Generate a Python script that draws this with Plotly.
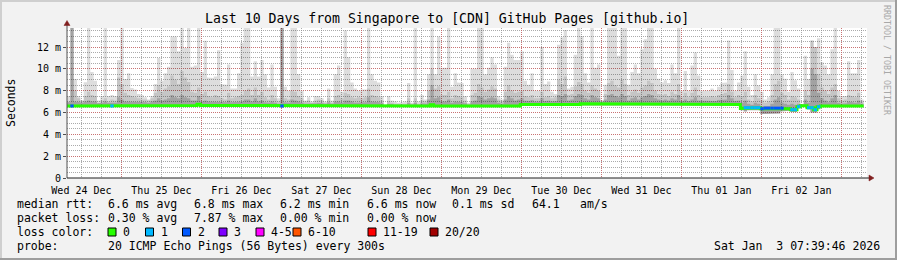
import plotly.graph_objects as go

# ---------------- text / labels ----------------
title_text = "Last 10 Days from Singapore to [CDN] GitHub Pages [github.io]"
y_axis_title = "Seconds"
watermark = "RRDTOOL / TOBI OETIKER"

day_labels = ["Wed 24 Dec", "Thu 25 Dec", "Fri 26 Dec", "Sat 27 Dec", "Sun 28 Dec",
              "Mon 29 Dec", "Tue 30 Dec", "Wed 31 Dec", "Thu 01 Jan", "Fri 02 Jan"]
# hours since Wed 24 Dec 00:00
day_noon_hours = [12, 36, 60, 84, 108, 132, 156, 180, 204, 228]
midnight_hours = [24, 48, 72, 96, 120, 144, 168, 192, 216, 240]
y_tick_values = [0, 2, 4, 6, 8, 10, 12]
y_tick_labels = ["0", "2 m", "4 m", "6 m", "8 m", "10 m", "12 m"]

start_hour = 7 + 39 / 60 + 46 / 3600       # Wed 24 Dec 07:39:46
span_hours = 240                           # last 10 days
y_top_ms = 13.74

# ---------------- hourly smoke data (ms) ----------------
smoke_max = [
    7.5, 13.74, 9.07, 7.52, 7.1, 8.76, 13.74, 9.7, 8.9, 7.1, 7.5, 13.74, 7.5, 7.6, 7.5, 10.8, 13.74, 9.07, 9.6, 8.25, 8.1, 7.7, 7.6, 7.4,
    7.2, 7.5, 8.6, 11.0, 8.9, 9.6, 10.2, 12.95, 12.95, 11.6, 13.74, 11.9, 13.74, 10.2, 10.3, 13.74, 9.7, 12.58, 9.2, 9.15, 9.3, 11.7, 8.6, 8.55,
    10.4, 8.2, 8.2, 9.6, 12.4, 13.74, 13.74, 9.3, 10.7, 9.3, 10.8, 9.5, 8.3, 10.4, 8.35, 7.3, 13.74, 8.35, 8.0, 13.74, 13.74, 9.53, 8.0, 7.1,
    7.4, 7.0, 7.5, 7.5, 7.3, 7.0, 8.2, 7.1, 9.5, 10.3, 7.9, 13.5, 11.05, 8.75, 8.2, 8.0, 8.1, 8.1, 13.74, 9.5, 8.9, 8.75, 7.5, 6.7,
    7.5, 7.1, 7.0, 6.9, 6.95, 7.0, 8.7, 6.9, 13.74, 7.0, 7.6, 7.2, 9.5, 13.74, 9.5, 12.95, 10.1, 10.1, 13.74, 8.35, 9.6, 8.75, 8.7, 7.5,
    6.9, 10.0, 10.0, 13.74, 13.74, 9.5, 10.1, 11.05, 10.4, 7.5, 7.2, 10.2, 12.4, 11.3, 10.8, 10.8, 11.6, 8.9, 8.55, 9.6, 8.0, 8.0, 12.0, 8.6,
    8.85, 7.9, 7.7, 12.2, 12.9, 13.55, 8.2, 8.35, 11.3, 13.74, 13.0, 9.6, 8.75, 13.74, 10.1, 10.4, 7.1, 8.55, 13.74, 13.74, 13.74, 11.2, 13.74, 13.74,
    8.55, 9.7, 10.4, 9.6, 11.8, 12.7, 13.74, 13.74, 10.0, 9.1, 8.75, 8.95, 8.7, 10.4, 9.6, 13.74, 8.0, 9.8, 8.0, 10.3, 11.5, 9.4, 8.0, 8.0,
    8.0, 8.2, 8.0, 8.35, 8.7, 8.75, 12.6, 9.9, 8.0, 8.75, 9.4, 11.6, 8.35, 7.6, 9.5, 8.5, 7.9, 7.2, 7.4, 9.5, 13.74, 13.74, 9.5, 9.1,
    7.9, 9.7, 8.95, 8.2, 6.75, 11.2, 9.07, 12.6, 12.0, 12.8, 10.6, 10.3, 9.5, 11.8, 13.74, 8.0, 7.5, 7.5, 10.7, 9.6, 9.6, 10.8, 7.2, None,
]
smoke_mid = [
    7.0, 13.74, 8.0, 7.3, 7.1, 7.5, 7.9, 7.6, 7.5, 6.9, 7.1, 7.3, 7.0, 7.2, 7.1, 9.2, 8.6, 7.8, 7.6, 7.5, 7.4, 7.3, 7.2, 7.2,
    7.1, 7.3, 7.8, 8.5, 7.9, 8.2, 8.4, 9.4, 9.0, 8.6, 9.8, 9.2, 8.8, 7.9, 7.8, 8.3, 7.7, 7.9, 7.5, 7.4, 7.6, 7.5, 7.3, 7.2,
    7.8, 7.3, 7.4, 7.5, 7.6, 8.0, 8.2, 7.6, 8.3, 7.6, 7.9, 7.4, 7.2, 7.6, 7.3, 7.0, 13.74, 7.3, 7.2, 8.0, 7.9, 7.5, 7.3, 7.0,
    7.1, 6.9, 7.1, 7.2, 7.1, 6.9, 7.3, 6.9, 7.5, 7.6, 7.3, 7.8, 7.7, 7.4, 7.3, 7.4, 7.3, 7.4, 8.2, 7.6, 7.5, 7.4, 7.1, 6.7,
    7.0, 6.9, 6.8, 6.8, 6.8, 6.8, 7.3, 6.8, 7.3, 6.8, 7.1, 7.0, 8.0, 10.0, 8.2, 8.4, 7.6, 7.6, 7.9, 7.3, 7.6, 7.5, 7.4, 7.1,
    6.8, 7.6, 7.8, 8.6, 8.3, 7.9, 8.1, 8.4, 8.2, 7.2, 7.0, 7.9, 8.5, 8.0, 7.8, 7.9, 8.0, 7.5, 7.4, 7.6, 7.3, 7.3, 7.9, 7.4,
    7.5, 7.3, 7.4, 9.0, 8.6, 9.3, 7.6, 7.7, 8.4, 8.8, 8.6, 8.0, 7.8, 8.5, 8.2, 8.0, 7.1, 7.7, 8.7, 8.9, 8.5, 8.3, 9.0, 8.6,
    7.6, 7.9, 8.1, 7.8, 8.3, 8.5, 8.9, 8.7, 8.0, 7.7, 7.6, 7.7, 7.5, 7.9, 7.7, 8.6, 7.4, 7.8, 7.4, 7.8, 8.3, 7.6, 7.4, 7.4,
    7.4, 7.5, 7.4, 7.6, 7.7, 7.8, 8.6, 7.9, 7.4, 7.6, 7.5, 7.9, 7.2, 7.0, 7.6, 7.3, 7.1, 6.9, 7.0, 7.6, 8.6, 8.9, 7.8, 7.6,
    7.2, 7.5, 7.4, 7.2, 6.75, 8.0, 7.6, 12.6, 12.0, 9.5, 8.3, 8.0, 7.7, 8.3, 8.6, 7.3, 7.1, 7.2, 7.6, 7.5, 7.4, 7.8, 7.0, None,
]
smoke_dark = [
    6.95, 13.74, 7.0, 6.95, 6.9, 7.0, 7.1, 7.0, 7.0, 6.85, 6.9, 7.0, 6.9, 6.95, 6.9, 7.4, 7.2, 7.0, 7.0, 6.95, 7.0, 7.0, 6.95, 6.95,
    6.9, 7.0, 7.1, 7.3, 7.1, 7.2, 7.3, 7.6, 7.4, 7.3, 7.6, 7.4, 7.3, 7.1, 7.1, 7.5, 7.0, 7.1, 7.0, 6.95, 7.0, 7.0, 6.95, 6.95,
    7.1, 6.95, 7.0, 7.0, 7.0, 7.2, 7.2, 7.0, 7.3, 7.0, 7.1, 6.95, 6.9, 7.0, 6.9, 6.8, 13.74, 6.95, 6.9, 7.2, 7.1, 7.0, 6.9, 6.8,
    6.85, 6.8, 6.85, 6.9, 6.85, 6.8, 6.95, 6.8, 7.0, 7.0, 6.9, 7.1, 7.1, 7.0, 6.9, 6.95, 6.9, 6.95, 7.4, 7.0, 7.0, 6.95, 6.85, 6.65,
    6.8, 6.75, 6.72, 6.72, 6.72, 6.72, 6.9, 6.72, 6.9, 6.72, 6.85, 6.8, 7.2, 8.5, 7.3, 7.4, 7.0, 7.0, 7.2, 6.9, 7.0, 7.0, 6.95, 6.85,
    6.72, 7.0, 7.1, 7.5, 7.4, 7.2, 7.3, 7.4, 7.3, 6.9, 6.8, 7.2, 7.5, 7.3, 7.1, 7.2, 7.3, 7.1, 7.05, 7.15, 7.0, 7.0, 7.3, 7.05,
    7.1, 7.0, 7.05, 7.6, 7.5, 7.7, 7.1, 7.2, 7.5, 7.7, 7.6, 7.3, 7.2, 7.6, 7.4, 7.3, 6.95, 7.2, 7.6, 7.7, 7.5, 7.4, 7.7, 7.5,
    7.1, 7.3, 7.4, 7.2, 7.4, 7.5, 7.7, 7.6, 7.3, 7.2, 7.1, 7.2, 7.1, 7.3, 7.2, 7.6, 7.05, 7.2, 7.05, 7.2, 7.4, 7.1, 7.05, 7.05,
    7.05, 7.1, 7.05, 7.15, 7.2, 7.2, 7.6, 7.3, 7.05, 7.1, 6.9, 7.1, 6.8, 6.7, 6.9, 6.8, 6.6, 6.6, 6.6, 6.8, 7.2, 7.4, 6.9, 6.8,
    6.7, 6.8, 6.7, 6.8, 6.75, 7.2, 6.9, 10.0, 9.5, 7.8, 7.3, 7.1, 6.95, 7.3, 7.6, 6.9, 6.8, 6.85, 7.0, 6.95, 6.9, 7.1, 6.8, None,
]
smoke_min = [
    6.50, 6.45, 6.50, 6.50, 6.50, 6.50, 6.50, 6.50, 6.50, 6.50, 6.50, 6.50, 6.50, 6.48, 6.50, 6.50, 6.50, 6.50, 6.50, 6.50, 6.55, 6.55, 6.55, 6.55,
    6.55, 6.55, 6.55, 6.55, 6.55, 6.55, 6.55, 6.55, 6.55, 6.55, 6.55, 6.55, 6.55, 6.55, 6.55, 6.60, 6.55, 6.55, 6.55, 6.55, 6.55, 6.55, 6.55, 6.55,
    6.52, 6.52, 6.52, 6.52, 6.52, 6.52, 6.52, 6.52, 6.52, 6.52, 6.52, 6.52, 6.52, 6.52, 6.52, 6.52, 6.45, 6.52, 6.52, 6.52, 6.52, 6.52, 6.52, 6.52,
    6.52, 6.52, 6.52, 6.52, 6.52, 6.52, 6.52, 6.52, 6.52, 6.52, 6.52, 6.52, 6.52, 6.52, 6.52, 6.52, 6.52, 6.52, 6.52, 6.52, 6.52, 6.52, 6.52, 6.52,
    6.50, 6.50, 6.50, 6.50, 6.50, 6.50, 6.50, 6.50, 6.50, 6.50, 6.50, 6.50, 6.50, 6.55, 6.50, 6.50, 6.50, 6.50, 6.50, 6.50, 6.50, 6.50, 6.50, 6.50,
    6.50, 6.50, 6.50, 6.50, 6.50, 6.50, 6.50, 6.50, 6.50, 6.50, 6.50, 6.50, 6.50, 6.50, 6.50, 6.50, 6.64, 6.64, 6.64, 6.64, 6.64, 6.64, 6.64, 6.64,
    6.64, 6.64, 6.64, 6.60, 6.64, 6.64, 6.64, 6.64, 6.64, 6.64, 6.68, 6.64, 6.64, 6.64, 6.64, 6.64, 6.64, 6.64, 6.64, 6.64, 6.64, 6.64, 6.64, 6.64,
    6.64, 6.64, 6.64, 6.64, 6.64, 6.64, 6.64, 6.64, 6.64, 6.64, 6.68, 6.68, 6.68, 6.64, 6.64, 6.64, 6.64, 6.64, 6.64, 6.64, 6.64, 6.64, 6.64, 6.64,
    6.64, 6.64, 6.64, 6.64, 6.64, 6.64, 6.64, 6.68, 6.68, 6.64, 6.20, 6.10, 6.20, 6.20, 6.15, 6.20, 5.85, 5.85, 5.85, 5.85, 5.90, 5.90, 6.10, 6.15,
    6.15, 6.05, 6.05, 6.40, 6.50, 6.50, 6.30, 6.00, 6.00, 6.30, 6.50, 6.50, 6.50, 6.50, 6.50, 6.50, 6.50, 6.50, 6.50, 6.50, 6.50, 6.50, 6.50, None,
]
median_ms = [
    6.60, 6.60, 6.60, 6.60, 6.60, 6.60, 6.60, 6.60, 6.60, 6.60, 6.60, 6.60, 6.60, 6.60, 6.60, 6.60, 6.60, 6.60, 6.60, 6.60, 6.65, 6.65, 6.65, 6.65,
    6.65, 6.65, 6.65, 6.65, 6.65, 6.65, 6.65, 6.65, 6.65, 6.65, 6.65, 6.65, 6.65, 6.65, 6.65, 6.75, 6.65, 6.65, 6.65, 6.65, 6.65, 6.65, 6.65, 6.65,
    6.62, 6.62, 6.62, 6.62, 6.62, 6.62, 6.62, 6.62, 6.62, 6.62, 6.62, 6.62, 6.62, 6.62, 6.62, 6.62, 6.60, 6.62, 6.62, 6.62, 6.62, 6.62, 6.62, 6.62,
    6.62, 6.62, 6.62, 6.62, 6.62, 6.62, 6.62, 6.62, 6.62, 6.62, 6.62, 6.62, 6.62, 6.62, 6.62, 6.62, 6.62, 6.62, 6.62, 6.62, 6.62, 6.62, 6.62, 6.62,
    6.60, 6.60, 6.60, 6.60, 6.60, 6.60, 6.60, 6.60, 6.60, 6.60, 6.60, 6.60, 6.60, 6.70, 6.60, 6.60, 6.60, 6.60, 6.60, 6.60, 6.60, 6.60, 6.60, 6.60,
    6.60, 6.60, 6.60, 6.60, 6.60, 6.60, 6.60, 6.60, 6.60, 6.60, 6.60, 6.60, 6.60, 6.60, 6.60, 6.60, 6.74, 6.74, 6.74, 6.74, 6.74, 6.74, 6.74, 6.74,
    6.74, 6.74, 6.74, 6.70, 6.74, 6.74, 6.74, 6.74, 6.74, 6.74, 6.80, 6.74, 6.74, 6.74, 6.74, 6.74, 6.74, 6.74, 6.74, 6.74, 6.74, 6.74, 6.74, 6.74,
    6.74, 6.74, 6.74, 6.74, 6.74, 6.74, 6.74, 6.74, 6.74, 6.74, 6.80, 6.80, 6.80, 6.74, 6.74, 6.74, 6.74, 6.74, 6.74, 6.74, 6.74, 6.74, 6.74, 6.74,
    6.74, 6.74, 6.74, 6.74, 6.74, 6.74, 6.74, 6.80, 6.80, 6.74, 6.38, 6.44, 6.44, 6.44, 6.44, 6.44, 6.35, 6.40, 6.40, 6.40, 6.40, 6.40, 6.40, 6.35,
    6.35, 6.26, 6.26, 6.53, 6.62, 6.62, 6.44, 6.44, 6.26, 6.53, 6.60, 6.60, 6.60, 6.60, 6.60, 6.60, 6.60, 6.60, 6.60, 6.60, 6.60, 6.60, 6.60, None,
]
# lost pings (of 20) per hour
loss_pings = [
    0, 2, 0, 0, 0, 0, 0, 0, 0, 0, 0, 0, 0, 1, 0, 0, 0, 0, 0, 0, 0, 0, 0, 0,
    0, 0, 0, 0, 0, 0, 0, 0, 0, 0, 0, 0, 0, 0, 0, 0, 0, 0, 0, 0, 0, 0, 0, 0,
    0, 0, 0, 0, 0, 0, 0, 0, 0, 0, 0, 0, 0, 0, 0, 0, 2, 0, 0, 0, 0, 0, 0, 0,
    0, 0, 0, 0, 0, 0, 0, 0, 0, 0, 0, 0, 0, 0, 0, 0, 0, 0, 0, 0, 0, 0, 0, 0,
    0, 0, 0, 0, 0, 0, 0, 0, 0, 0, 0, 0, 0, 0, 0, 0, 0, 0, 0, 0, 0, 0, 0, 0,
    0, 0, 0, 0, 0, 0, 0, 0, 0, 0, 0, 0, 0, 0, 0, 0, 0, 0, 0, 0, 0, 0, 0, 0,
    0, 0, 0, 0, 0, 0, 0, 0, 0, 0, 0, 0, 0, 0, 0, 0, 0, 0, 0, 0, 0, 0, 0, 0,
    0, 0, 0, 0, 0, 0, 0, 0, 0, 0, 0, 0, 0, 0, 0, 0, 0, 0, 0, 0, 0, 0, 0, 0,
    0, 0, 0, 0, 0, 0, 0, 0, 0, 0, 0, 1, 1, 1, 1, 1, 2, 2, 2, 2, 2, 2, 2, 0,
    0, 1, 1, 1, 0, 0, 1, 1, 1, 1, 0, 0, 0, 0, 0, 0, 0, 0, 0, 0, 0, 0, 0, 0,
]

loss_keys = [0, 1, 2, 3, 5, 10, 19, 20]
loss_names = ["0", "1", "2", "3", "4-5", "6-10", "11-19", "20/20"]
loss_colors = ["#26ff00", "#00b8ff", "#0059ff", "#7e00ff", "#ff00ff", "#ff5500", "#ff0000", "#a10000"]
loss_swatch_px = [108, 145.5, 182.5, 219, 256, 293, 368, 430]

stats_rows = [
    [("median rtt:", 16), ("6.6 ms avg", 107), ("6.8 ms max", 192.5), ("6.2 ms min", 279),
     ("6.6 ms now", 365.5), ("0.1 ms sd", 451), ("64.1", 530.5), ("am/s", 579)],
    [("packet loss:", 16), ("0.30 % avg", 107), ("7.87 % max", 192.5), ("0.00 % min", 279),
     ("0.00 % now", 365.5)],
    [("loss color:", 16)],
    [("probe:", 16), ("20 ICMP Echo Pings (56 Bytes) every 300s", 107)],
]
stats_rows_y = [204, 218, 232, 246]
timestamp_text = "Sat Jan\u00a0\u00a03 07:39:46 2026"

# ---------------- geometry ----------------
W, H = 897, 260
PL, PR, PT, PB = 67, 30, 28, 82
PW, PH = W - PL - PR, H - PT - PB
MONO = "DejaVu Sans Mono"

BG = "#f2f2f2"
GRID = "rgba(143,143,143,0.75)"
MGRID = "rgba(222,79,79,0.6)"
ARROW = "#801f1f"


def px_x(px):
    return (px - PL) / PW


def px_y(py):
    return (H - PB - py) / PH


end_hour = start_hour + span_hours
x_left = [start_hour + i for i in range(len(smoke_max))]

fig = go.Figure()


def smoke_band(top, color):
    """one step-shaped polygon from the per-hour minimum up to `top`"""
    upper_x, upper_y, lower_x, lower_y = [], [], [], []
    for xl, lo, hi in zip(x_left, smoke_min, top):
        if lo is None or hi is None:
            continue
        hi = max(hi, lo)
        upper_x += [xl, xl + 1]
        upper_y += [hi, hi]
        lower_x += [xl, xl + 1]
        lower_y += [lo, lo]
    xs = upper_x + lower_x[::-1] + [upper_x[0]]
    ys = upper_y + lower_y[::-1] + [upper_y[0]]
    return go.Scatter(x=xs, y=ys, mode="lines", fill="toself", fillcolor=color,
                      line=dict(width=0, color=color), hoverinfo="skip", showlegend=False)


# translucent greys stack into the smoke shades and let the grid show through
fig.add_trace(smoke_band(smoke_max, "rgba(0,0,0,0.135)"))
fig.add_trace(smoke_band(smoke_mid, "rgba(0,0,0,0.105)"))
fig.add_trace(smoke_band(smoke_dark, "rgba(0,0,0,0.175)"))

# median line (step)
mx, my = [], []
for xl, m in zip(x_left, median_ms):
    if m is None:
        continue
    mx += [xl, xl + 1]
    my += [m, m]
fig.add_trace(go.Scatter(x=mx, y=my, mode="lines", line=dict(color=loss_colors[0], width=3),
                         hoverinfo="skip", showlegend=False))

# loss-coloured median segments
for k, key in enumerate(loss_keys):
    if key == 0:
        continue
    lo_key = loss_keys[k - 1]
    sx, sy = [], []
    for xl, m, lp in zip(x_left, median_ms, loss_pings):
        if m is None or not (lo_key < lp <= key):
            continue
        sx += [xl, xl + 1, None]
        sy += [m, m, None]
    if sx:
        fig.add_trace(go.Scatter(x=sx, y=sy, mode="lines",
                                 line=dict(color=loss_colors[k], width=3),
                                 hoverinfo="skip", showlegend=False))

# dummy trace to bind the label axis
fig.add_trace(go.Scatter(x=[None], y=[None], xaxis="x2", yaxis="y", showlegend=False, hoverinfo="skip"))

shapes = []
# frame
shapes += [
    dict(type="rect", xref="paper", yref="paper", x0=px_x(0), x1=px_x(W), y0=px_y(2), y1=px_y(0),
         fillcolor="#cfcfcf", line=dict(width=0), layer="above"),
    dict(type="rect", xref="paper", yref="paper", x0=px_x(0), x1=px_x(2), y0=px_y(H), y1=px_y(0),
         fillcolor="#cfcfcf", line=dict(width=0), layer="above"),
    dict(type="rect", xref="paper", yref="paper", x0=px_x(0), x1=px_x(W), y0=px_y(H), y1=px_y(H - 2),
         fillcolor="#9e9e9e", line=dict(width=0), layer="above"),
    dict(type="rect", xref="paper", yref="paper", x0=px_x(W - 2), x1=px_x(W), y0=px_y(H), y1=px_y(0),
         fillcolor="#9e9e9e", line=dict(width=0), layer="above"),
]
# axes lines and arrows
shapes += [
    dict(type="line", xref="paper", yref="paper", x0=px_x(67), x1=px_x(67), y0=px_y(178), y1=px_y(24),
         line=dict(color="#505050", width=1), layer="above"),
    dict(type="line", xref="paper", yref="paper", x0=px_x(67), x1=px_x(870), y0=px_y(178), y1=px_y(178),
         line=dict(color="#1f1f1f", width=1), layer="above"),
    dict(type="path", xref="paper", yref="paper",
         path=f"M {px_x(64)} {px_y(25.5)} L {px_x(67)} {px_y(20.5)} L {px_x(70)} {px_y(25.5)} Z",
         fillcolor=ARROW, line=dict(color=ARROW, width=0.5), layer="above"),
    dict(type="path", xref="paper", yref="paper",
         path=f"M {px_x(869)} {px_y(175)} L {px_x(874)} {px_y(178)} L {px_x(869)} {px_y(181)} Z",
         fillcolor=ARROW, line=dict(color=ARROW, width=0.5), layer="above"),
]
# loss colour swatches
for sx_px, col in zip(loss_swatch_px, loss_colors):
    shapes.append(dict(type="rect", xref="paper", yref="paper",
                       x0=px_x(sx_px), x1=px_x(sx_px + 8), y0=px_y(236), y1=px_y(228),
                       fillcolor=col, line=dict(color="black", width=1), layer="above"))

annotations = []


def add_text(text, x, y, size=11.5, anchor="left", color="black", angle=0):
    annotations.append(dict(text=text, xref="paper", yref="paper", x=px_x(x), y=px_y(y),
                            xanchor=anchor, yanchor="middle", showarrow=False, textangle=angle,
                            borderpad=0, font=dict(family=MONO, size=size, color=color)))


add_text(title_text, 447, 19, size=13.2, anchor="center")
add_text(y_axis_title, 11, 103, size=11.5, anchor="center", angle=-90)
add_text(watermark, 887, 60, size=8.3, anchor="center", color="#a8a8a8", angle=90)
for row, yrow in zip(stats_rows, stats_rows_y):
    for txt, xpx in row:
        add_text(txt, xpx, yrow)
for sx_px, name in zip(loss_swatch_px, loss_names):
    add_text(name, sx_px + 14, 232)
add_text(timestamp_text, 881, 246, anchor="right")

fig.update_layout(
    width=W, height=H,
    margin=dict(l=PL, r=PR, t=PT, b=PB, pad=0),
    paper_bgcolor=BG, plot_bgcolor="white",
    font=dict(family=MONO, size=10, color="black"),
    showlegend=False,
    shapes=shapes, annotations=annotations,
    xaxis=dict(range=[start_hour, end_hour], tickmode="array", tickvals=midnight_hours,
               showticklabels=False, ticks="", showgrid=True, gridcolor=MGRID, griddash="1px,1px",
               gridwidth=1, zeroline=False, showline=False, automargin=False, fixedrange=True,
               minor=dict(dtick=6, tick0=0, showgrid=True, gridcolor=GRID, griddash="1px,1px", gridwidth=1)),
    xaxis2=dict(range=[start_hour, end_hour], overlaying="x", anchor="y", side="bottom",
                tickmode="array", tickvals=day_noon_hours, ticktext=day_labels,
                showgrid=False, zeroline=False, showline=False, ticks="outside", ticklen=3,
                tickcolor="rgba(0,0,0,0)", automargin=False,
                tickfont=dict(family=MONO, size=10, color="black")),
    yaxis=dict(range=[0, y_top_ms], tickmode="array", tickvals=y_tick_values, ticktext=y_tick_labels,
               showgrid=True, gridcolor=MGRID, griddash="1px,1px", gridwidth=1, zeroline=False,
               showline=False, ticks="outside", ticklen=3, tickcolor="#505050", automargin=False,
               tickfont=dict(family=MONO, size=10, color="black"),
               minor=dict(dtick=0.5, tick0=0, showgrid=True, gridcolor=GRID, griddash="1px,1px", gridwidth=1)),
)

fig.write_html("out.html")
